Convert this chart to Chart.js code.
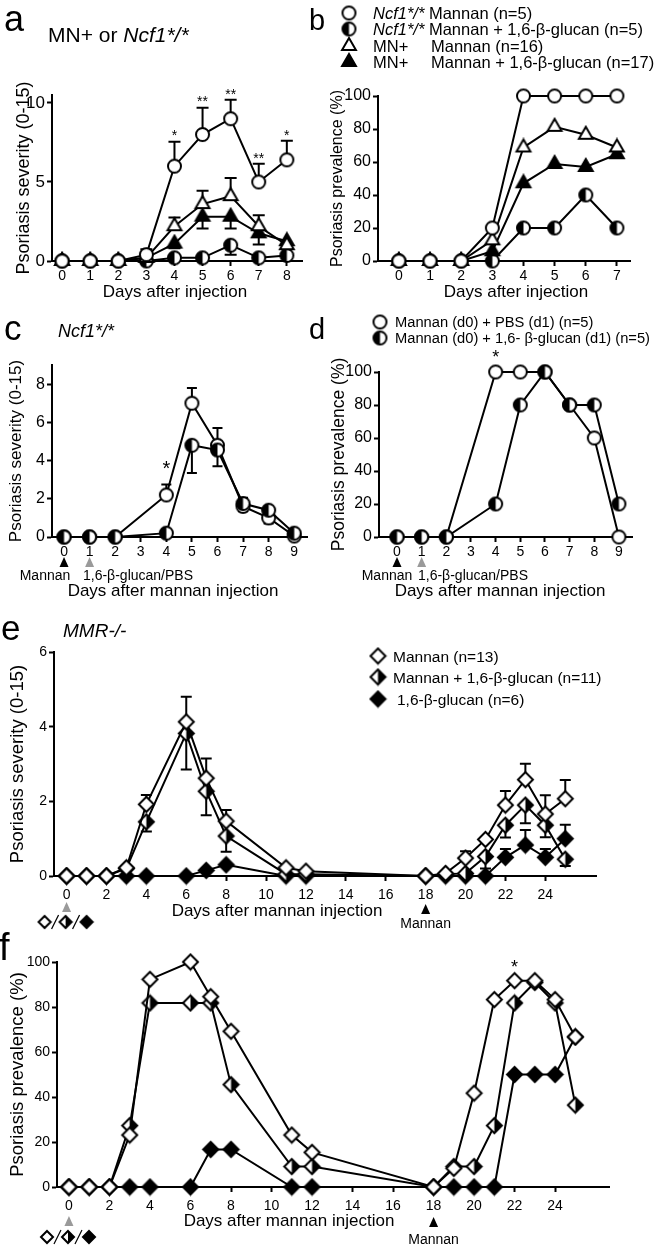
<!DOCTYPE html>
<html>
<head>
<meta charset="utf-8">
<title>Psoriasis severity and prevalence</title>
<script src="https://cdn.jsdelivr.net/npm/chart.js@4.4.1/dist/chart.umd.min.js"></script>
<style>
  body { margin: 0; background: #fff; }
  #page { position: relative; width: 663px; height: 1246px; overflow: hidden; font-family: "Liberation Sans", Arial, sans-serif; color: #000; }
  #page canvas { position: absolute; }
  .t { position: absolute; white-space: nowrap; line-height: 1; }
</style>
</head>
<body>
<div id="page">
  <canvas id="chartA" width="330" height="300" style="left:0;top:0"></canvas>
  <canvas id="chartB" width="333" height="300" style="left:330px;top:0"></canvas>
  <canvas id="chartC" width="330" height="320" style="left:0;top:280px"></canvas>
  <canvas id="chartD" width="333" height="320" style="left:330px;top:280px"></canvas>
  <canvas id="chartE" width="663" height="345" style="left:0;top:590px"></canvas>
  <canvas id="chartF" width="663" height="311" style="left:0;top:935px"></canvas>

  <div class="t" style="left:4px;top:1px;font-size:36px">a</div>
  <div class="t" style="left:48px;top:24px;font-size:21px">MN+ or <i>Ncf1*/*</i></div>
  <div class="t" style="left:309px;top:6px;font-size:29px">b</div>
  <div class="t" style="left:4px;top:310px;font-size:35px">c</div>
  <div class="t" style="left:58px;top:322px;font-size:18px"><i>Ncf1*/*</i></div>
  <div class="t" style="left:309px;top:315px;font-size:29px">d</div>
  <div class="t" style="left:1px;top:610px;font-size:35px">e</div>
  <div class="t" style="left:63px;top:621px;font-size:19px"><i>MMR-/-</i></div>
  <div class="t" style="left:-1px;top:928px;font-size:38px">f</div>
</div>
<script>
// ---- panel a: severity, MN+ or Ncf1*/* ----
const aDays = [0, 1, 2, 3, 4, 5, 6, 7, 8];
const aNcfMannan = [0, 0, 0, 0.4, 6.0, 8.0, 9.0, 5.0, 6.4];
const aNcfMannanErrHi = [null, null, null, 0.35, 1.55, 1.7, 1.2, 1.15, 1.2];
const aNcfGlucan = [0, 0, 0, 0, 0.2, 0.2, 1.0, 0.2, 0.35];
const aNcfGlucanErrLo = [null, null, null, null, null, null, 0.6, null, null];
const aMnMannan = [0, 0, 0, 0.2, 2.2, 3.6, 4.1, 2.2, 1.0];
const aMnMannanErrHi = [null, null, null, null, 0.55, 0.85, 1.15, 0.7, null];
const aMnGlucan = [0, 0, 0, 0.2, 1.1, 2.8, 2.8, 1.75, 1.25];
const aMnGlucanErrLo = [null, null, null, null, 0.3, 0.75, 0.75, 0.7, null];
const aStars = [[4, '*'], [5, '**'], [6, '**'], [7, '**'], [8, '*']];
const aYTicks = [0, 5, 10];

// ---- panel b: prevalence ----
const bDays = [0, 1, 2, 3, 4, 5, 6, 7];
const bNcfMannan = [0, 0, 0, 20, 100, 100, 100, 100];
const bNcfGlucan = [0, 0, 0, 0, 20, 20, 40, 20];
const bMnMannan = [0, 0, 0, 12.5, 68.8, 81.3, 76.5, 68.8];
const bMnGlucan = [0, 0, 0, 5.9, 47.1, 58.8, 57.0, 64.7];
const pctTicks = [0, 20, 40, 60, 80, 100];

// ---- panel c/d: Ncf1*/*, glucan or PBS on day 1 ----
const cdDays = [0, 1, 2, 4, 5, 6, 7, 8, 9];
const cdXTicks = [0, 1, 2, 3, 4, 5, 6, 7, 8, 9];
const cPbs = [0, 0, 0, 2.2, 7.0, 4.8, 1.6, 1.0, 0.05];
const cPbsErrHi = [null, null, null, 0.55, 0.8, 0.9, 0.45, null, null];
const cPbsErrLo = [null, null, null, null, null, null, null, 0.3, null];
const cGlucan = [0, 0, 0, 0.2, 4.8, 4.55, 1.75, 1.4, 0.2];
const cGlucanErrLo = [null, null, null, null, 1.45, 0.85, 0.4, null, null];
const cYTicks = [0, 2, 4, 6, 8];
const dPbs = [0, 0, 0, 100, 100, 100, 80, 60, 0];
const dGlucan = [0, 0, 0, 20, 80, 100, 80, 80, 20];

// ---- panel e/f: MMR-/- ----
const efDays = [0, 1, 2, 3, 4, 6, 7, 8, 11, 12, 18, 19, 20, 21, 22, 23, 24, 25];
const efXTicks = [0, 2, 4, 6, 8, 10, 12, 14, 16, 18, 20, 22, 24];
const eMannan = [0, 0, 0, 0.22, 1.92, 4.13, 2.62, 1.47, 0.22, 0.13, 0, 0.07, 0.48, 0.98, 1.9, 2.58, 1.66, 2.07];
const eMannanErrHi = [null, null, null, null, 0.25, 0.67, 0.53, 0.3, null, null, null, null, 0.18, null, 0.38, 0.43, 0.5, 0.5];
const eMixed = [0, 0, 0, 0.2, 1.45, 3.82, 2.27, 1.07, 0.05, 0.05, 0, 0.05, 0.07, 0.52, 1.36, 1.9, 1.36, 0.45];
const eMixedErrLo = [null, null, null, null, 0.26, 0.97, 0.64, 0.42, null, null, null, null, null, 0.32, 0.33, 0.49, 0.32, 0.18];
const eGlucan = [0, 0, 0, 0, 0, 0, 0.15, 0.3, 0, 0, 0, 0, 0, 0, 0.5, 0.83, 0.5, 1.0];
const eGlucanErrHi = [null, null, null, null, null, null, null, null, null, null, null, null, null, null, 0.22, 0.4, 0.22, 0.37];
const eYTicks = [0, 2, 4, 6];
const fMannan = [0, 0, 0, 23.1, 92.3, 100, 84.6, 69.2, 23.1, 15.4, 0, 8.3, 41.7, 83.3, 91.7, 91.7, 83.3, 66.7];
const fMixed = [0, 0, 0, 27.3, 81.8, 81.8, 81.8, 45.5, 9.1, 9.1, 0, 9.1, 9.1, 27.3, 81.8, 90.9, 81.8, 36.4];
const fGlucan = [0, 0, 0, 0, 0, 0, 16.7, 16.7, 0, 0, 0, 0, 0, 0, 50, 50, 50, 66.7];

const FONT = '"Liberation Sans", Arial, sans-serif';
const BLACK = '#000';
const GREY = '#9a9a9a';

// marker images (open / half / filled)
function markerPath(g, shape, m, r) {
    g.beginPath();
    if (shape === 'circle') {
        g.arc(m, m, r, 0, Math.PI * 2);
    } else if (shape === 'triangle') {
        g.moveTo(m, m - r);
        g.lineTo(m + r * 0.866, m + r * 0.5);
        g.lineTo(m - r * 0.866, m + r * 0.5);
    } else {
        g.moveTo(m, m - r); g.lineTo(m + r, m); g.lineTo(m, m + r); g.lineTo(m - r, m);
    }
    g.closePath();
}

function marker(shape, fill, r) {
    const s = Math.ceil(r * 2 + 4);
    const c = document.createElement('canvas');
    c.width = c.height = s;
    const g = c.getContext('2d');
    const m = s / 2;
    markerPath(g, shape, m, r);
    g.fillStyle = '#fff';
    g.fill();
    if (fill !== 'none') {
        g.save();
        if (fill !== 'full') { g.beginPath(); g.rect(fill === 'left' ? 0 : m, 0, m, s); g.clip(); }
        markerPath(g, shape, m, r);
        g.fillStyle = BLACK;
        g.fill();
        g.restore();
    }
    markerPath(g, shape, m, r);
    g.lineWidth = 2;
    g.strokeStyle = BLACK;
    g.stroke();
    return c;
}

const MK = {
    openCircle: marker('circle', 'none', 6.5),
    halfCircle: marker('circle', 'left', 6.5),
    openTri: marker('triangle', 'none', 8),
    fullTri: marker('triangle', 'full', 8),
    openDia: marker('diamond', 'none', 7.5),
    halfDia: marker('diamond', 'right', 7.5),
    fullDia: marker('diamond', 'full', 7.5),
    smallOpen: marker('diamond', 'none', 6),
    smallHalf: marker('diamond', 'right', 6),
    smallFull: marker('diamond', 'full', 6)
};

function series(label, days, vals, img, err) {
    return Object.assign({
        label: label,
        data: days.map((d, i) => ({ x: d, y: vals[i] })),
        borderColor: BLACK,
        borderWidth: 2,
        pointStyle: img,
        pointRadius: 6,
        pointHoverRadius: 6,
        tension: 0,
        fill: false,
        clip: false
    }, err || {});
}

function label(ctx, text, x, y, size, align, italic) {
    ctx.font = (italic ? 'italic ' : '') + size + 'px ' + FONT;
    ctx.textAlign = align || 'left';
    ctx.textBaseline = 'alphabetic';
    ctx.fillStyle = BLACK;
    ctx.fillText(text, x, y);
    return ctx.measureText(text).width;
}

// per chart extras: error bars, stars, arrows, texts, legends
const EXTRAS = {};

const extrasPlugin = {
    id: 'extras',
    beforeDatasetsDraw(chart) {
        const ex = EXTRAS[chart.canvas.id];
        const ctx = chart.ctx, xs = chart.scales.x, ys = chart.scales.y;
        const cap = (ex && ex.cap) || 11;
        ctx.save();
        ctx.strokeStyle = BLACK;
        ctx.lineWidth = 2;
        chart.data.datasets.forEach(ds => {
            ds.data.forEach((pt, i) => {
                [[ds.errHi, 1], [ds.errLo, -1]].forEach(([arr, sign]) => {
                    if (!arr || arr[i] == null) return;
                    const px = xs.getPixelForValue(pt.x);
                    const py = ys.getPixelForValue(pt.y);
                    const ey = ys.getPixelForValue(pt.y + sign * arr[i]);
                    ctx.beginPath();
                    ctx.moveTo(px, py); ctx.lineTo(px, ey);
                    ctx.moveTo(px - cap / 2, ey); ctx.lineTo(px + cap / 2, ey);
                    ctx.stroke();
                });
            });
        });
        ctx.restore();
    },
    afterDraw(chart) {
        const ex = EXTRAS[chart.canvas.id];
        if (!ex) return;
        const ctx = chart.ctx, xs = chart.scales.x, ys = chart.scales.y;
        ctx.save();

        (ex.stars || []).forEach(s => {
            const ds = chart.data.datasets[s.ds];
            const i = ds.data.findIndex(p => p.x === s.day);
            const top = ds.data[i].y + (ds.errHi && ds.errHi[i] != null ? ds.errHi[i] : 0);
            const cy = ys.getPixelForValue(top) - s.gap;
            label(ctx, s.text, xs.getPixelForValue(s.day), cy + 0.56 * s.size, s.size, 'center');
        });

        (ex.arrows || []).forEach(a => {
            const px = xs.getPixelForValue(a.day);
            ctx.fillStyle = a.color;
            ctx.beginPath();
            ctx.moveTo(px, a.y - 5); ctx.lineTo(px + 4.5, a.y + 5); ctx.lineTo(px - 4.5, a.y + 5);
            ctx.closePath();
            ctx.fill();
        });

        (ex.texts || []).forEach(t => {
            const x = t.day != null ? xs.getPixelForValue(t.day) : t.x;
            label(ctx, t.text, x, t.y, t.size, t.align || 'center');
        });

        if (ex.symbols) {
            const cx = xs.getPixelForValue(ex.symbols.day), cy = ex.symbols.y;
            [[-22, MK.smallOpen], [-1, MK.smallHalf], [20, MK.smallFull]].forEach(([dx, img]) => {
                ctx.drawImage(img, cx + dx - img.width / 2, cy - img.height / 2);
            });
            ctx.strokeStyle = BLACK;
            ctx.lineWidth = 1.2;
            [-11.5, 9.5].forEach(dx => {
                ctx.beginPath();
                ctx.moveTo(cx + dx - 3.5, cy + 7); ctx.lineTo(cx + dx + 3.5, cy - 7);
                ctx.stroke();
            });
        }

        if (ex.legend) {
            const lg = ex.legend;
            lg.rows.forEach(row => {
                const img = chart.data.datasets[row.ds].pointStyle;
                ctx.drawImage(img, lg.x - img.width / 2, row.y - img.height / 2);
                let x = lg.tx;
                row.parts.forEach(p => {
                    if (p[2] != null) x = p[2];
                    x += label(ctx, p[0], x, row.y + 0.36 * lg.size, lg.size, 'left', p[1]);
                });
            });
        }
        ctx.restore();
    }
};
Chart.register(extrasPlugin);

function xAxis(p) {
    return {
        type: 'linear', min: p.min, max: p.max,
        afterBuildTicks: s => { s.ticks = p.ticks.map(v => ({ value: v })); },
        afterFit: s => { s.height = p.h; },
        grid: { drawOnChartArea: false, drawTicks: true, tickLength: 5, tickWidth: 2, tickColor: BLACK },
        border: { display: true, color: BLACK, width: 2 },
        ticks: { color: BLACK, padding: p.pad || 2, maxRotation: 0, autoSkip: false, font: { family: FONT, size: p.font || 14 } }
    };
}

function yAxis(p) {
    return {
        type: 'linear', min: 0, max: p.max,
        afterBuildTicks: s => { s.ticks = p.ticks.map(v => ({ value: v })); },
        afterFit: s => { s.width = p.w; },
        grid: { drawOnChartArea: false, drawTicks: true, tickLength: 5, tickWidth: 2, tickColor: BLACK },
        border: { display: true, color: BLACK, width: 2 },
        ticks: { color: BLACK, padding: 2, font: { family: FONT, size: p.font } },
        title: {
            display: true, text: p.title, color: BLACK,
            font: { family: FONT, size: p.titleSize, lineHeight: 1 },
            padding: { top: p.titlePad, bottom: 0 }
        }
    };
}

function build(id, datasets, x, y, ex) {
    EXTRAS[id] = ex;
    return new Chart(document.getElementById(id), {
        type: 'line',
        data: { datasets: datasets },
        options: {
            responsive: false,
            animation: false,
            events: [],
            layout: { padding: Object.assign({ left: 0, top: 0, right: 0, bottom: 0 }, ex.pad) },
            plugins: { legend: { display: false }, tooltip: { enabled: false } },
            scales: { x: xAxis(x), y: yAxis(y) }
        }
    });
}

// a
build('chartA', [
    series('Ncf1*/* Mannan', aDays, aNcfMannan, MK.openCircle, { errHi: aNcfMannanErrHi }),
    series('MN+ Mannan', aDays, aMnMannan, MK.openTri, { errHi: aMnMannanErrHi }),
    series('MN+ Mannan + 1,6-β-glucan', aDays, aMnGlucan, MK.fullTri, { errLo: aMnGlucanErrLo }),
    series('Ncf1*/* Mannan + 1,6-β-glucan', aDays, aNcfGlucan, MK.halfCircle, { errLo: aNcfGlucanErrLo })
], { min: -0.36, max: 8.54, ticks: aDays, h: 39 },
   { max: 10.5, ticks: aYTicks, w: 52, font: 17, title: 'Psoriasis severity (0-15)', titleSize: 18, titlePad: 15 },
   {
       pad: { top: 95, right: 28 }, cap: 12,
       stars: aStars.map(([d, t]) => ({ ds: 0, day: d, text: t, size: 14, gap: 9 })),
       texts: [{ text: 'Days after injection', x: 175, y: 297, size: 17 }]
   });

// b
build('chartB', [
    series('Ncf1*/* Mannan', bDays, bNcfMannan, MK.openCircle),
    series('MN+ Mannan', bDays, bMnMannan, MK.openTri),
    series('MN+ Mannan + 1,6-β-glucan', bDays, bMnGlucan, MK.fullTri),
    series('Ncf1*/* Mannan + 1,6-β-glucan', bDays, bNcfGlucan, MK.halfCircle)
], { min: -0.67, max: 7.42, ticks: bDays, h: 39 },
   { max: 100, ticks: pctTicks, w: 48, font: 16, title: 'Psoriasis prevalence (%)', titleSize: 16, titlePad: 0 },
   {
       pad: { top: 96, right: 33 },
       texts: [{ text: 'Days after injection', x: 186, y: 297, size: 17 }],
       legend: {
           x: 19, tx: 43, size: 16.5, rows: [
               { ds: 0, y: 13, parts: [['Ncf1*/*', true], [' Mannan (n=5)']] },
               { ds: 3, y: 29, parts: [['Ncf1*/*', true], [' Mannan + 1,6-β-glucan (n=5)']] },
               { ds: 1, y: 46, parts: [['MN+'], ['Mannan (n=16)', false, 101]] },
               { ds: 2, y: 62, parts: [['MN+'], ['Mannan + 1,6-β-glucan (n=17)', false, 101]] }
           ]
       }
   });

// c
build('chartC', [
    series('Mannan (d0) + 1,6-β-glucan (d1)', cdDays, cGlucan, MK.halfCircle, { errLo: cGlucanErrLo }),
    series('Mannan (d0) + PBS (d1)', cdDays, cPbs, MK.openCircle, { errHi: cPbsErrHi, errLo: cPbsErrLo })
], { min: -0.47, max: 9.5, ticks: cdXTicks, h: 63 },
   { max: 9, ticks: cYTicks, w: 52, font: 16, title: 'Psoriasis severity (0-15)', titleSize: 17, titlePad: 8 },
   {
       pad: { top: 85, right: 23 }, cap: 10,
       stars: [{ ds: 1, day: 4, text: '*', size: 20, gap: 21 }],
       arrows: [{ day: 0, y: 282, color: BLACK }, { day: 1, y: 282, color: GREY }],
       texts: [
           { text: 'Mannan', x: 45, y: 300, size: 14 },
           { text: '1,6-β-glucan/PBS', x: 83, y: 300, size: 14, align: 'left' },
           { text: 'Days after mannan injection', x: 173, y: 316, size: 17 }
       ]
   });

// d
build('chartD', [
    series('Mannan (d0) + 1,6-β-glucan (d1)', cdDays, dGlucan, MK.halfCircle),
    series('Mannan (d0) + PBS (d1)', cdDays, dPbs, MK.openCircle)
], { min: -0.73, max: 9.53, ticks: cdXTicks, h: 63 },
   { max: 100, ticks: pctTicks, w: 49, font: 16, title: 'Psoriasis prevalence (%)', titleSize: 17.5, titlePad: 0 },
   {
       pad: { top: 92, right: 31 },
       stars: [{ ds: 1, day: 4, text: '*', size: 18, gap: 19 }],
       arrows: [{ day: 0, y: 282, color: BLACK }, { day: 1, y: 282, color: GREY }],
       texts: [
           { text: 'Mannan', x: 57, y: 300, size: 14 },
           { text: '1,6-β-glucan/PBS', x: 88, y: 300, size: 14, align: 'left' },
           { text: 'Days after mannan injection', x: 170, y: 316, size: 17 }
       ],
       legend: {
           x: 50, tx: 65, size: 14.7, rows: [
               { ds: 1, y: 42, parts: [['Mannan (d0) + PBS (d1) (n=5)']] },
               { ds: 0, y: 58, parts: [['Mannan (d0) + 1,6- β-glucan (d1) (n=5)']] }
           ]
       }
   });

// e
build('chartE', [
    series('Mannan (n=13)', efDays, eMannan, MK.openDia, { errHi: eMannanErrHi }),
    series('Mannan + 1,6-β-glucan (n=11)', efDays, eMixed, MK.halfDia, { errLo: eMixedErrLo }),
    series('1,6-β-glucan (n=6)', efDays, eGlucan, MK.fullDia, { errHi: eGlucanErrHi })
], { min: -0.63, max: 26.54, ticks: efXTicks, h: 59, pad: 6 },
   { max: 6, ticks: eYTicks, w: 54, font: 14, title: 'Psoriasis severity (0-15)', titleSize: 18.5, titlePad: 8.75 },
   {
       pad: { top: 62, right: 67 }, cap: 11,
       arrows: [{ day: 0, y: 317, color: GREY }, { day: 18, y: 319, color: BLACK }],
       texts: [
           { text: 'Days after mannan injection', x: 277, y: 326, size: 17 },
           { text: 'Mannan', day: 18, y: 338, size: 14 }
       ],
       symbols: { day: 0, y: 332 },
       legend: {
           x: 378, tx: 393, size: 15.5, rows: [
               { ds: 0, y: 66, parts: [['Mannan (n=13)']] },
               { ds: 1, y: 87, parts: [['Mannan + 1,6-β-glucan (n=11)']] },
               { ds: 2, y: 109, parts: [['1,6-β-glucan (n=6)', false, 397]] }
           ]
       }
   });

// f
build('chartF', [
    series('Mannan (n=13)', efDays, fMannan, MK.openDia),
    series('Mannan + 1,6-β-glucan (n=11)', efDays, fMixed, MK.halfDia),
    series('1,6-β-glucan (n=6)', efDays, fGlucan, MK.fullDia)
], { min: -0.59, max: 26.66, ticks: efXTicks, h: 59, pad: 6 },
   { max: 100, ticks: pctTicks, w: 57, font: 14, title: 'Psoriasis prevalence (%)', titleSize: 18.5, titlePad: 8.75 },
   {
       pad: { top: 27, right: 54 },
       stars: [{ ds: 0, day: 22, text: '*', size: 18, gap: 18 }],
       arrows: [{ day: 0, y: 286, color: GREY }, { day: 18, y: 287, color: BLACK }],
       texts: [
           { text: 'Days after mannan injection', x: 289, y: 291, size: 17 },
           { text: 'Mannan', day: 18, y: 309, size: 14 }
       ],
       symbols: { day: 0, y: 302 }
   });
</script>
</body>
</html>
